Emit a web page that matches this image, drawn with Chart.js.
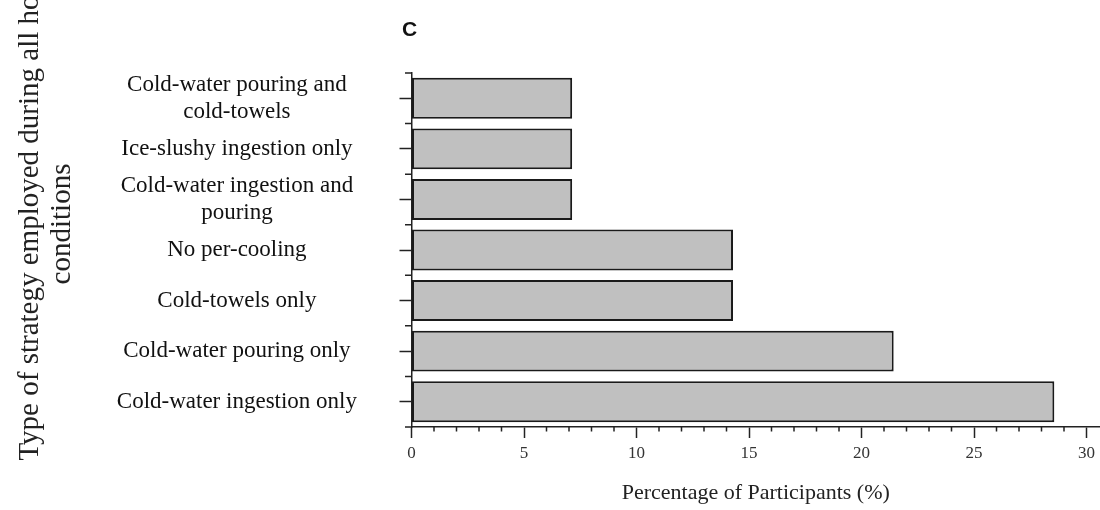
<!DOCTYPE html>
<html><head><meta charset="utf-8">
<script src="https://cdn.jsdelivr.net/npm/chart.js@4.4.1/dist/chart.umd.min.js"></script>
<style>html,body{margin:0;padding:0;background:#fff;} canvas{display:block;}</style>
</head><body>
<canvas id="c" width="1100" height="510"></canvas>
<script>
const categories = [
  ["Cold-water pouring and", "cold-towels"],
  "Ice-slushy ingestion only",
  ["Cold-water ingestion and", "pouring"],
  "No per-cooling",
  "Cold-towels only",
  "Cold-water pouring only",
  "Cold-water ingestion only"
];
const percentages = [7.14, 7.14, 7.14, 14.29, 14.29, 21.43, 28.57];
const xTickValues = [0, 5, 10, 15, 20, 25, 30];
const xMinorStep = 1;
const xMax = 30.6;
const yTitleLines = ["Type of strategy employed during all hot", "conditions"];
const xTitle = "Percentage of Participants (%)";
const panelLabel = "C";

const serif = "'Liberation Serif', 'Times New Roman', serif";
const ink = '#222';

const extras = {
  id: 'extras',
  afterDraw(chart) {
    const ctx = chart.ctx;
    const x = chart.scales.x, y = chart.scales.y;
    ctx.save();
    ctx.strokeStyle = ink; ctx.lineWidth = 1.5;
    ctx.beginPath();
    x.ticks.forEach(t => {
      if (!xTickValues.includes(t.value)) {
        const px = x.getPixelForValue(t.value);
        ctx.moveTo(px, x.top); ctx.lineTo(px, x.top + 4.5);
      }
    });
    for (let i = 0; i <= categories.length; i++) {
      const py = y.getPixelForValue(i - 0.5);
      ctx.moveTo(y.right - 6.5, py); ctx.lineTo(y.right, py);
    }
    ctx.stroke();
    ctx.fillStyle = ink;
    ctx.font = "29px " + serif;
    ctx.textAlign = 'center'; ctx.textBaseline = 'alphabetic';
    const cy = (y.top + y.bottom) / 2 - 26;
    [38, 70].forEach((bx, i) => {
      ctx.save(); ctx.translate(bx, cy); ctx.rotate(-Math.PI / 2);
      ctx.fillText(yTitleLines[i], 0, 0); ctx.restore();
    });
    ctx.font = "bold 21px 'Liberation Sans', Arial, sans-serif";
    ctx.textAlign = 'left';
    ctx.fillStyle = '#111';
    ctx.fillText(panelLabel, 402, 36);
    ctx.restore();
  }
};

new Chart(document.getElementById('c'), {
  type: 'bar',
  data: {
    labels: categories,
    datasets: [{
      data: percentages,
      backgroundColor: '#c0c0c0',
      borderColor: '#1a1a1a',
      borderWidth: 2,
      borderSkipped: false,
      barPercentage: 0.81,
      categoryPercentage: 1.0
    }]
  },
  options: {
    indexAxis: 'y',
    responsive: false,
    animation: false,
    devicePixelRatio: 1,
    layout: { padding: { top: 73, right: 0, bottom: 0, left: 0 } },
    plugins: { legend: { display: false }, tooltip: { enabled: false } },
    scales: {
      x: {
        type: 'linear', min: 0, max: xMax,
        afterBuildTicks: s => { s.ticks = s.ticks.filter(t => Number.isInteger(t.value) && t.value <= 30); },
        afterFit: s => { s.height = 83; },
        ticks: {
          stepSize: xMinorStep, includeBounds: false, autoSkip: false, maxRotation: 0, padding: 5,
          callback: v => xTickValues.includes(v) ? String(v) : '',
          font: { family: serif, size: 17, lineHeight: 1.2 }, color: '#333'
        },
        grid: {
          drawOnChartArea: false, drawTicks: true, tickLength: 11, tickWidth: 1.5,
          tickColor: c => (c.tick && xTickValues.includes(c.tick.value)) ? ink : 'rgba(0,0,0,0)'
        },
        border: { display: true, color: ink, width: 1.5 },
        title: { display: true, text: xTitle, color: ink, font: { family: serif, size: 22, lineHeight: 1.2 }, padding: { top: 0, bottom: 4 } }
      },
      y: {
        type: 'category', offset: true,
        afterFit: s => { s.width = 411.5; },
        ticks: {
          crossAlign: 'center', padding: 42.5, autoSkip: false,
          font: { family: serif, size: 23, lineHeight: 1.17 }, color: '#111'
        },
        grid: { offset: false, drawOnChartArea: false, tickLength: 12, tickWidth: 1.5, tickColor: ink },
        border: { display: true, color: ink, width: 1.5 }
      }
    }
  },
  plugins: [extras]
});
</script>
</body></html>
